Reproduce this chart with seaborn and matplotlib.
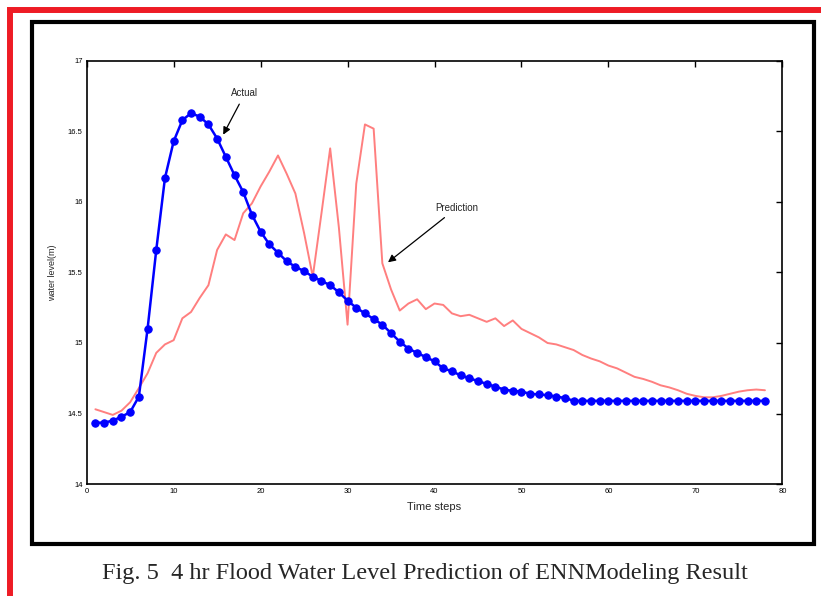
import numpy as np
import pandas as pd
import matplotlib
matplotlib.use("Agg")
import matplotlib.pyplot as plt
import matplotlib.patches as mpatches
import seaborn as sns

# ---- data ----
time_steps = list(range(1, 79))

actual = [14.435, 14.435, 14.45, 14.477, 14.51, 14.62, 15.10, 15.66, 16.17, 16.43,
          16.58, 16.63, 16.605, 16.55, 16.45, 16.32, 16.19, 16.07, 15.91, 15.79,
          15.70, 15.64, 15.58, 15.54, 15.51, 15.47, 15.44, 15.41, 15.36, 15.30,
          15.25, 15.21, 15.17, 15.13, 15.07, 15.01, 14.96, 14.93, 14.90, 14.87,
          14.82, 14.80, 14.77, 14.75, 14.73, 14.71, 14.69, 14.67, 14.66, 14.655,
          14.64, 14.635, 14.63, 14.62, 14.61, 14.59, 14.59, 14.59, 14.59, 14.59,
          14.59, 14.59, 14.59, 14.59, 14.59, 14.59, 14.59, 14.59, 14.59, 14.59,
          14.59, 14.59, 14.59, 14.59, 14.59, 14.59, 14.59, 14.59]

prediction = [14.53, 14.51, 14.49, 14.52, 14.58, 14.68, 14.785, 14.93, 14.99, 15.02,
              15.175, 15.22, 15.32, 15.41, 15.66, 15.77, 15.73, 15.92, 15.99, 16.11,
              16.215, 16.33, 16.20, 16.06, 15.78, 15.47, 15.92, 16.38, 15.82, 15.13,
              16.13, 16.55, 16.52, 15.565, 15.38, 15.23, 15.28, 15.31, 15.24, 15.28,
              15.27, 15.21, 15.19, 15.20, 15.175, 15.15, 15.175, 15.12, 15.16, 15.10,
              15.07, 15.04, 15.00, 14.99, 14.97, 14.95, 14.915, 14.89, 14.87, 14.84,
              14.82, 14.79, 14.76, 14.745, 14.725, 14.70, 14.685, 14.665, 14.64, 14.625,
              14.615, 14.615, 14.625, 14.64, 14.655, 14.665, 14.67, 14.665]

x_ticks = [0, 10, 20, 30, 40, 50, 60, 70, 80]
y_ticks = [14, 14.5, 15, 15.5, 16, 16.5, 17]
y_tick_labels = ["14", "14.5", "15", "15.5", "16", "16.5", "17"]

df = pd.DataFrame({"step": time_steps, "Actual": actual, "Prediction": prediction})

sns.set_style("white")
plt.rcParams["font.family"] = ["Liberation Sans", "DejaVu Sans"]

fig = plt.figure(figsize=(8.21, 5.96), dpi=100)
ax = fig.add_axes([0.1056, 0.1879, 0.8473, 0.7098])

sns.lineplot(data=df, x="step", y="Prediction", ax=ax, color="#ff7f7f", lw=1.4)
sns.lineplot(data=df, x="step", y="Actual", ax=ax, color="#0000ff", lw=1.8,
             marker="o", markersize=5.3, markeredgecolor="#0000ff")

ax.set_xlim(0, 80)
ax.set_ylim(14, 17)
ax.set_xticks(x_ticks)
ax.set_xticklabels([str(t) for t in x_ticks])
ax.set_yticks(y_ticks)
ax.set_yticklabels(y_tick_labels)
ax.tick_params(direction="in", length=4, width=1, top=True, right=True,
               labelsize=5.5, pad=3, colors="black")
for s in ax.spines.values():
    s.set_linewidth(1.2)
    s.set_color("black")
ax.set_xlabel("Time steps", fontsize=8, labelpad=5)
ax.set_ylabel("water level(m)", fontsize=6.5, labelpad=8)

ax.annotate("Actual", xy=(15.55, 16.46), xytext=(18.2, 16.77), fontsize=7,
            ha="center", va="center",
            arrowprops=dict(arrowstyle="-|>", color="black", lw=0.9, mutation_scale=11))
ax.annotate("Prediction", xy=(34.4, 15.56), xytext=(42.6, 15.96), fontsize=7,
            ha="center", va="center",
            arrowprops=dict(arrowstyle="-|>", color="black", lw=0.9, mutation_scale=11))

# outer frames
W, H = 821, 596
fig.add_artist(mpatches.Rectangle((10 / W, -0.2), 1.5, 1.2 - 9.7 / H,
                                  transform=fig.transFigure, fill=False,
                                  edgecolor="#ee1c25", lw=4.3))
fig.add_artist(mpatches.Rectangle((32 / W, 1 - 543.5 / H), (813.5 - 32) / W,
                                  (543.5 - 22) / H, transform=fig.transFigure,
                                  fill=False, edgecolor="black", lw=3))

fig.text(425 / W, 1 - 573 / H,
         "Fig. 5  4 hr Flood Water Level Prediction of ENNModeling Result",
         ha="center", va="center", fontsize=17.5, family="Liberation Serif")

fig.savefig("out.png", dpi=100)
